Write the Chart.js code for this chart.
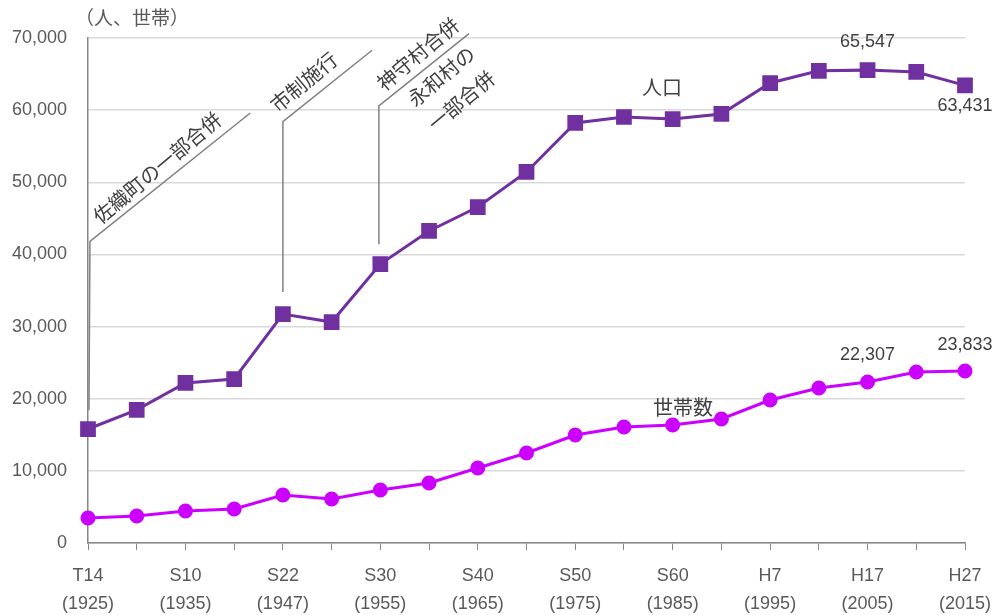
<!DOCTYPE html>
<html>
<head>
<meta charset="utf-8">
<script src="https://cdn.jsdelivr.net/npm/chart.js@4"></script>
<style>
  html, body { margin: 0; padding: 0; background: #fff; }
  #wrap { width: 1001px; height: 615px; }
</style>
</head>
<body>
<div id="wrap"><canvas id="chart" width="1001" height="615"></canvas></div>
<script>
const eras = ['T14', '', 'S10', '', 'S22', '', 'S30', '', 'S40', '', 'S50', '', 'S60', '', 'H7', '', 'H17', '', 'H27'];
const years = ['1925', '1930', '1935', '1940', '1947', '1950', '1955', '1960', '1965', '1970',
  '1975', '1980', '1985', '1990', '1995', '2000', '2005', '2010', '2015'];
const population = [15800, 18450, 22180, 22730, 31740, 30630, 38670, 43250, 46570, 51430,
  58220, 59050, 58770, 59470, 63760, 65450, 65547, 65290, 63431];
const households = [3470, 3740, 4440, 4710, 6650, 6100, 7350, 8320, 10400, 12480,
  14970, 16080, 16360, 17190, 19820, 21490, 22307, 23700, 23833];
const yTicks = [0, 10000, 20000, 30000, 40000, 50000, 60000, 70000];

const FONT = '"Liberation Sans", "Noto Sans CJK JP", sans-serif';
const JP = '"Noto Sans CJK JP", sans-serif';
const TEXT = '#595959';

// history notes: [x index, y value] points of the leader line, label anchors
const notes = [
  { line: [[0.02, 18400], [0.04, 41800], [3.33, 59600]],
    texts: [{ t: '佐織町の一部合併', at: [1.42, 52000] }] },
  { line: [[4, 34800], [4, 58400], [5.83, 68300]],
    texts: [{ t: '市制施行', at: [4.43, 63900] }] },
  { line: [[5.97, 41400], [5.97, 60600], [7.82, 70600]],
    texts: [{ t: '神守村合併', at: [6.77, 67800] },
            { t: '永和村の', at: [7.25, 64700] },
            { t: '一部合併', at: [7.66, 61300] }] }
];

const seriesNames = [
  { t: '人口', at: [11.78, 63200] },
  { t: '世帯数', at: [12.21, 18850] }
];

// value labels: dataset, index, pixel offset from point
const valueLabels = [
  { ds: 0, i: 16, dy: -28 },
  { ds: 0, i: 18, dy: 21 },
  { ds: 1, i: 16, dy: -27 },
  { ds: 1, i: 18, dy: -26 }
];

const labels = eras.map((e, i) => (e ? [e, '(' + years[i] + ')'] : ''));

const notesPlugin = {
  id: 'notes',
  afterDatasetsDraw(chart) {
    const { ctx, scales: { x, y } } = chart;
    const px = (p) => [x.getPixelForValue(p[0]), y.getPixelForValue(p[1])];
    ctx.save();
    ctx.strokeStyle = '#808080';
    ctx.lineWidth = 1.5;
    notes.forEach((n) => {
      ctx.beginPath();
      n.line.forEach((p, k) => {
        const [a, b] = px(p);
        if (k === 0) ctx.moveTo(a, b); else ctx.lineTo(a, b);
      });
      ctx.stroke();
      n.texts.forEach((s) => {
        const [a, b] = px(s.at);
        ctx.save();
        ctx.translate(a, b);
        ctx.rotate(-40 * Math.PI / 180);
        ctx.font = '20px ' + JP;
        ctx.fillStyle = '#404040';
        ctx.textAlign = 'center';
        ctx.textBaseline = 'middle';
        ctx.fillText(s.t, 0, 0);
        ctx.restore();
      });
    });

    ctx.font = '20px ' + JP;
    ctx.fillStyle = '#404040';
    ctx.textAlign = 'center';
    ctx.textBaseline = 'middle';
    seriesNames.forEach((s) => {
      const [a, b] = px(s.at);
      ctx.fillText(s.t, a, b);
    });

    ctx.font = '18px ' + FONT;
    valueLabels.forEach((v) => {
      const pt = chart.getDatasetMeta(v.ds).data[v.i];
      const val = chart.data.datasets[v.ds].data[v.i];
      ctx.fillText(val.toLocaleString('en-US'), pt.x, pt.y + v.dy);
    });

    ctx.font = '19px ' + JP;
    ctx.fillStyle = TEXT;
    ctx.fillText('（人、世帯）', chart.chartArea.left + 44, 18);
    ctx.restore();
  }
};

new Chart(document.getElementById('chart'), {
  type: 'line',
  data: {
    labels,
    datasets: [
      {
        label: '人口',
        data: population,
        borderColor: '#7030a0',
        backgroundColor: '#7030a0',
        borderWidth: 3,
        pointStyle: 'rect',
        pointRadius: 9,
        pointHoverRadius: 9,
        tension: 0
      },
      {
        label: '世帯数',
        data: households,
        borderColor: '#cc00ff',
        backgroundColor: '#cc00ff',
        borderWidth: 3,
        pointStyle: 'circle',
        pointRadius: 6,
        pointHoverRadius: 6,
        tension: 0
      }
    ]
  },
  options: {
    responsive: false,
    animation: false,
    layout: { padding: { left: 0, right: 36, top: 38, bottom: 0 } },
    plugins: {
      legend: { display: false },
      tooltip: { enabled: false }
    },
    scales: {
      x: {
        offset: false,
        grid: { drawOnChartArea: false, drawTicks: true, tickLength: 7, color: '#868686' },
        border: { color: '#868686', width: 1.5 },
        ticks: {
          autoSkip: false,
          maxRotation: 0,
          color: TEXT,
          padding: 12,
          font: { family: FONT, size: 18, lineHeight: 1.55 }
        },
        afterFit(scale) {
          scale.height = 72;
          scale.paddingRight = 0;
          scale.paddingLeft = 0;
        }
      },
      y: {
        min: 0,
        max: 70000,
        grid: { color: '#d9d9d9', lineWidth: 1.5, drawTicks: false },
        border: { color: '#868686', width: 1.5 },
        afterBuildTicks(scale) { scale.ticks = yTicks.map((v) => ({ value: v })); },
        ticks: {
          color: TEXT,
          padding: 21,
          font: { family: FONT, size: 18 },
          callback: (v) => v.toLocaleString('en-US')
        },
        afterFit(scale) { scale.width = 88; }
      }
    }
  },
  plugins: [notesPlugin]
});
</script>
</body>
</html>
